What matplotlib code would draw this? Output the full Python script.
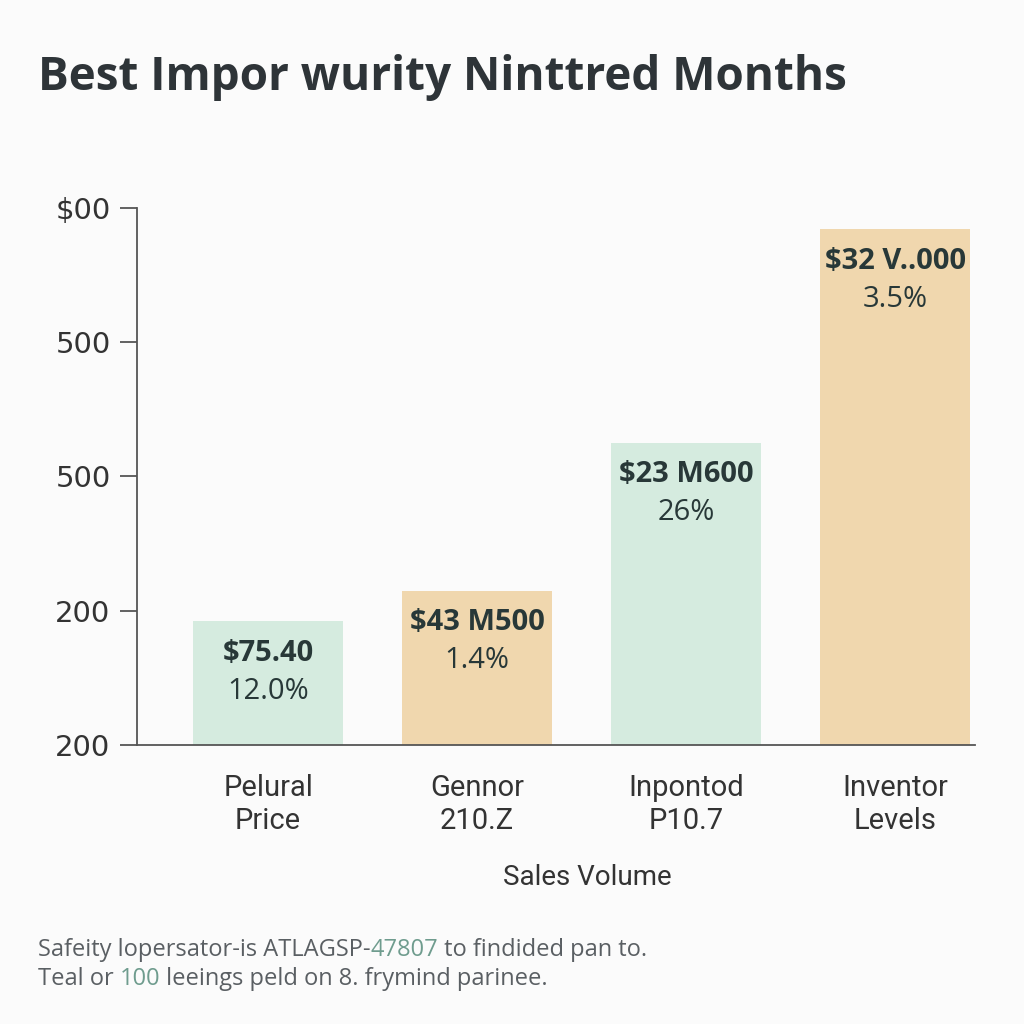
import numpy as np
import matplotlib.pyplot as plt

# Chart data
categories = ["Pelural\nPrice", "Gennor\n210.Z", "Inpontod\nP10.7", "Inventor\nLevels"]
values = [92, 115, 225, 384]
value_labels = ["$75.40", "$43 M500", "$23 M600", "$32 V..000"]
pct_labels = ["12.0%", "1.4%", "26%", "3.5%"]
bar_colors = ["#d5ebdf", "#f0d7ae", "#d5ebdf", "#f0d7ae"]
y_ticks = [0, 100, 200, 300, 400]
y_tick_labels = ["200", "200", "500", "500", "$00"]

bg = "#fbfbfb"
dark = "#2e3438"
teal = "#6f9c8e"
grey = "#5a5f63"

fig = plt.figure(figsize=(10.24, 10.24), dpi=100, facecolor=bg)
ax = fig.add_axes([0.1338, 0.2725, 0.818, 0.5245], facecolor=bg)

x = np.arange(len(categories))
bars = ax.bar(x, values, width=0.72, color=bar_colors, zorder=2)

ax.set_xlim(-0.627, 3.38)
ax.set_ylim(0, 400)
ax.set_yticks(y_ticks)
ax.set_yticklabels(y_tick_labels, fontsize=21, color="#333333", family="DejaVu Sans")
ax.set_xticks(x)
ax.set_xticklabels(categories, fontsize=21, color="#333333", family="Roboto",
                   linespacing=1.2)
ax.tick_params(axis="y", length=12, width=1.3, color="#555555", pad=7)
ax.tick_params(axis="x", length=0, pad=21)

for s in ["top", "right"]:
    ax.spines[s].set_visible(False)
for s in ["left", "bottom"]:
    ax.spines[s].set_color("#555555")
    ax.spines[s].set_linewidth(1.3)

# value labels inside bars
for b, v, p in zip(bars, value_labels, pct_labels):
    cx = b.get_x() + b.get_width() / 2
    top = b.get_height()
    ax.annotate(v, xy=(cx, top), xytext=(0, -32), textcoords="offset pixels",
                ha="center", va="center", fontsize=21, fontweight="bold",
                color="#283838", family="Open Sans")
    ax.annotate(p, xy=(cx, top), xytext=(0, -70), textcoords="offset pixels",
                ha="center", va="center", fontsize=21,
                color="#283838", family="Open Sans")

ax.set_xlabel("Sales Volume", fontsize=20, color="#333333", family="Roboto")
ax.xaxis.set_label_coords(0.538, -0.246)
ax.xaxis.label.set_va("center")

fig.text(0.037, 0.924, "Best Impor wurity Ninttred Months", fontsize=33,
         fontweight="bold", color=dark, family="Open Sans", va="center")


# footer with highlighted pieces
def footer(parts, y):
    prev = fig.text(0.037, y, parts[0][0], fontsize=17, color=parts[0][1],
                    family="Open Sans", va="bottom")
    for s, c in parts[1:]:
        prev = fig.add_artist(plt.Annotation(s, xy=(1, 0), xycoords=prev,
                                             fontsize=17, color=c, family="Open Sans",
                                             va="bottom", ha="left"))


footer([("Safeity lopersator-is ATLAGSP-", grey), ("47807", teal),
        (" to findided pan to.", grey)], 0.061)
footer([("Teal or ", grey), ("100", teal),
        (" leeings peld on 8. frymind parinee.", grey)], 0.032)

fig.savefig("out.png", dpi=100, facecolor=bg)
